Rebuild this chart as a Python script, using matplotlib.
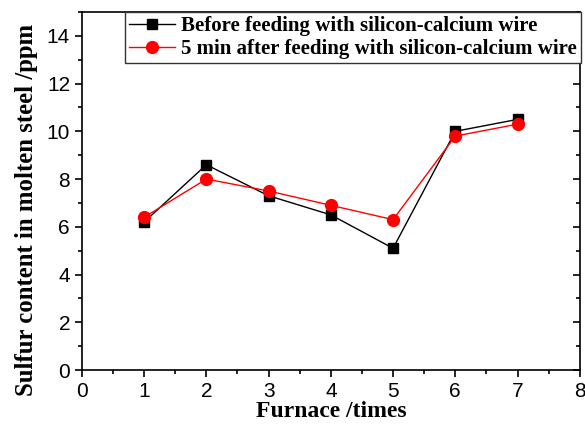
import matplotlib
import numpy as np
from matplotlib import pyplot as plt
from matplotlib.ticker import MultipleLocator

matplotlib.use("Agg")

furnace = [1, 2, 3, 4, 5, 6, 7]
before = [6.2, 8.6, 7.3, 6.5, 5.1, 10.0, 10.5]
after_5min = [6.4, 8.0, 7.5, 6.9, 6.3, 9.8, 10.3]
labels = [
    "Before feeding with silicon-calcium wire",
    "5 min after feeding with silicon-calcium wire",
]

SERIF = ["Liberation Serif", "DejaVu Serif"]
SANS = ["Liberation Sans", "DejaVu Sans"]


def render() -> None:
    fig = plt.figure(figsize=(5.85, 4.28), dpi=100)
    ax = fig.add_axes([0.140, 0.1355, 0.851, 0.8365])

    ax.plot(furnace, before, "-s", color="black", lw=1, ms=7, label=labels[0])
    ax.plot(furnace, after_5min, "-o", color="red", lw=1, ms=8.5, label=labels[1])

    ax.set_xlim(0, 8)
    ax.set_ylim(0, 15)
    ax.xaxis.set_major_locator(MultipleLocator(1))
    ax.xaxis.set_minor_locator(MultipleLocator(0.5))
    ax.yaxis.set_major_locator(MultipleLocator(2))
    ax.yaxis.set_minor_locator(MultipleLocator(1))

    ax.tick_params(which="both", direction="out", right=True, top=False, width=1.2)
    ax.tick_params(which="major", length=5, labelsize=15)
    ax.tick_params(which="minor", length=3)
    # right side ticks point inward
    for t in ax.yaxis.get_major_ticks() + ax.yaxis.get_minor_ticks():
        t.tick2line.set_marker(matplotlib.lines.TICKLEFT)
    for lab in ax.get_xticklabels() + ax.get_yticklabels():
        lab.set_family(SANS)
    for sp in ax.spines.values():
        sp.set_linewidth(1.2)

    ax.set_xlabel("Furnace /times", fontsize=17, fontweight="bold", family=SERIF, labelpad=0)
    ax.set_ylabel("Sulfur content in molten steel /ppm", fontsize=17.8, fontweight="bold",
                  family=SERIF)
    ax.yaxis.set_label_coords(-0.088, 0.447)

    leg = ax.legend(loc="upper right", bbox_to_anchor=(1.003, 1.0), fancybox=False,
                    framealpha=1, edgecolor="#333333", handlelength=2.2, handletextpad=0.3,
                    borderpad=0.2, labelspacing=0.15, borderaxespad=0,
                    prop={"family": SERIF, "weight": "bold", "size": 15})
    leg.get_frame().set_linewidth(1.0)

    fig.savefig("out.png", dpi=100)
    plt.close(fig)


if __name__ == "__main__":
    render()
